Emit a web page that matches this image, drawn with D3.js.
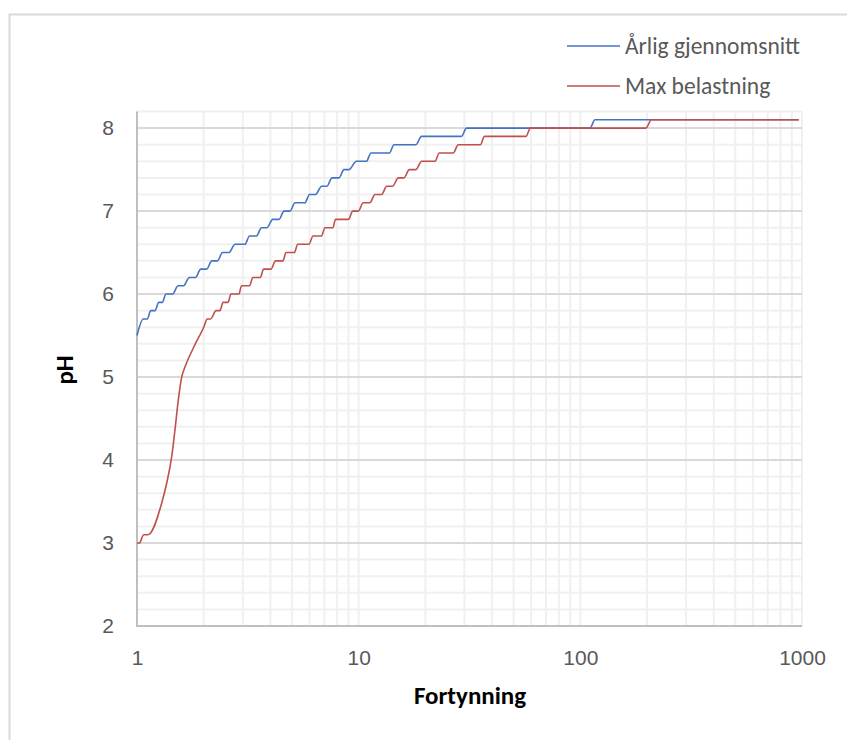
<!DOCTYPE html>
<html>
<head>
<meta charset="utf-8">
<script src="https://cdn.jsdelivr.net/npm/d3@7"></script>
<style>
  html, body { margin: 0; padding: 0; background: #ffffff; }
  svg { display: block; font-family: Carlito, Calibri, Lato, "Open Sans", sans-serif; }
</style>
</head>
<body>
<svg id="chart" width="847" height="740"></svg>
<script>
// ---- data ----
const seriesNames = ["Årlig gjennomsnitt", "Max belastning"];
const seriesColors = ["#4472C4", "#C0504D"];

const blueX = [1, 1.068, 1.113, 1.153, 1.206, 1.253, 1.300, 1.351, 1.449, 1.531, 1.621, 1.722, 1.836,
  1.938, 2.063, 2.173, 2.307, 2.430, 2.600, 2.767, 3.070, 3.217, 3.459, 3.644, 3.858, 4.094, 4.371,
  4.604, 4.899, 5.160, 5.725, 5.999, 6.385, 6.808, 7.194, 7.577, 8.149, 8.584, 9.042, 9.774, 10.84,
  11.36, 13.77, 14.43, 18.13, 19.20, 29.09, 30.64, 110.5, 116.4, 968];
const blueY = [5.5, 5.7, 5.7, 5.8, 5.8, 5.9, 5.9, 6.0, 6.0, 6.1, 6.1, 6.2, 6.2,
  6.3, 6.3, 6.4, 6.4, 6.5, 6.5, 6.6, 6.6, 6.7, 6.7, 6.8, 6.8, 6.9, 6.9,
  7.0, 7.0, 7.1, 7.1, 7.2, 7.2, 7.3, 7.3, 7.4, 7.4, 7.5, 7.5, 7.6, 7.6,
  7.7, 7.7, 7.8, 7.8, 7.9, 7.9, 8.0, 8.0, 8.1, 8.1];

const redX = [1, 1.025, 1.072, 1.121, 1.292, 1.361, 1.434, 1.483, 1.535, 1.591, 1.646, 1.795, 2.000,
  2.075, 2.150, 2.272, 2.368, 2.443, 2.573, 2.655, 2.885, 2.961, 3.220, 3.329, 3.602, 3.724, 4.022,
  4.214, 4.556, 4.700, 5.128, 5.307, 5.968, 6.221, 6.794, 7.047, 7.656, 7.857, 8.995, 9.397, 9.959,
  10.49, 11.24, 11.84, 12.70, 13.37, 14.24, 15.09, 16.01, 16.92, 18.13, 19.24, 22.09, 23.10, 26.71,
  28.13, 35.43, 36.93, 56.84, 59.56, 197.7, 209.3, 968];
const redY = [3.0, 3.0, 3.1, 3.1, 3.48, 3.72, 4.04, 4.36, 4.72, 5.0, 5.12, 5.35, 5.6,
  5.7, 5.7, 5.8, 5.8, 5.9, 5.9, 6.0, 6.0, 6.1, 6.1, 6.2, 6.2, 6.3, 6.3,
  6.4, 6.4, 6.5, 6.5, 6.6, 6.6, 6.7, 6.7, 6.8, 6.8, 6.9, 6.9, 7.0, 7.0,
  7.1, 7.1, 7.2, 7.2, 7.3, 7.3, 7.4, 7.4, 7.5, 7.5, 7.6, 7.6, 7.7, 7.7,
  7.8, 7.8, 7.9, 7.9, 8.0, 8.0, 8.1, 8.1];

const xTickValues = [1, 10, 100, 1000];
const xTickLabels = ["1", "10", "100", "1000"];
const yTickValues = [2, 3, 4, 5, 6, 7, 8];
const yTickLabels = ["2", "3", "4", "5", "6", "7", "8"];
const xTitle = "Fortynning";
const yTitle = "pH";

(function () {
// ---- layout ----
const svg = d3.select("#chart");
const pL = 137, pR = 802, pT = 111.5, pB = 626;

const x = d3.scaleLog().domain([1, 1000]).range([pL, pR]);
const y = d3.scaleLinear().domain([2, 8.2]).range([pB, pT]);

// chart border
svg.append("rect")
  .attr("x", 9.5).attr("y", 14.5).attr("width", 860).attr("height", 760)
  .attr("fill", "none").attr("stroke", "#d9d9d9").attr("stroke-width", 2);

// minor horizontal grid
const yMinor = d3.range(0, 32).map(i => +(2 + i * 0.2).toFixed(1)).filter(v => v <= 8.2);
const grid = svg.append("g");
grid.selectAll("line.hmin").data(yMinor.filter(v => Math.abs(v - Math.round(v)) > 1e-6))
  .join("line")
  .attr("x1", pL).attr("x2", pR)
  .attr("y1", d => y(d)).attr("y2", d => y(d))
  .attr("stroke", "#f0f0f0").attr("stroke-width", 2);

// vertical grid (log minor)
const xGridVals = [];
[1, 10, 100].forEach(dec => { for (let k = 1; k <= 9; k++) xGridVals.push(dec * k); });
xGridVals.push(1000);
grid.selectAll("line.v").data(xGridVals.filter(v => v > 1))
  .join("line")
  .attr("x1", d => x(d)).attr("x2", d => x(d))
  .attr("y1", pT).attr("y2", pB)
  .attr("stroke", "#f0f0f0").attr("stroke-width", 2);

grid.selectAll("line.hmaj").data(yTickValues.filter(v => v > 2))
  .join("line")
  .attr("x1", pL).attr("x2", pR)
  .attr("y1", d => y(d)).attr("y2", d => y(d))
  .attr("stroke", "#d9d9d9").attr("stroke-width", 2);

// axes
const yAxis = d3.axisLeft(y).tickValues(yTickValues).tickFormat((d, i) => yTickLabels[i]).tickSize(0).tickPadding(23);
const gy = svg.append("g").attr("transform", `translate(${pL},0)`).call(yAxis);
gy.select(".domain").attr("stroke", "#bfbfbf").attr("stroke-width", 2).attr("d", `M0,${pT}V${pB}`);
gy.selectAll("text").attr("font-size", 21).attr("fill", "#595959").attr("font-family", null);

const xAxis = d3.axisBottom(x).tickValues(xTickValues).tickFormat((d, i) => xTickLabels[i]).tickSize(0).tickPadding(24);
const gx = svg.append("g").attr("transform", `translate(0,${pB})`).call(xAxis);
gx.select(".domain").attr("stroke", "#bfbfbf").attr("stroke-width", 2).attr("d", `M${pL - 1},0H${pR}`);
gx.selectAll("text").attr("font-size", 21).attr("fill", "#595959").attr("font-family", null);

// series
const series = [
  { name: seriesNames[0], color: seriesColors[0], pts: blueX.map((v, i) => [v, blueY[i]]) },
  { name: seriesNames[1], color: seriesColors[1], pts: redX.map((v, i) => [v, redY[i]]) }
];
const line = d3.line().x(d => x(d[0])).y(d => y(d[1])).curve(d3.curveMonotoneX);
svg.append("g").selectAll("path").data(series).join("path")
  .attr("d", d => line(d.pts))
  .attr("fill", "none").attr("stroke", d => d.color).attr("stroke-width", 1.6)
  .attr("stroke-linejoin", "round");

// titles
svg.append("text").attr("x", 470).attr("y", 704).attr("text-anchor", "middle")
  .attr("font-size", 25).attr("font-weight", "bold").attr("fill", "#000").text(xTitle);
svg.append("text").attr("transform", "translate(73,370) rotate(-90)").attr("text-anchor", "middle")
  .attr("font-size", 25).attr("font-weight", "bold").attr("fill", "#000").text(yTitle);

// legend
const lg = svg.append("g");
series.forEach((s, i) => {
  const ly = 46 + i * 40;
  lg.append("line").attr("x1", 567).attr("x2", 620).attr("y1", ly).attr("y2", ly)
    .attr("stroke", s.color).attr("stroke-width", 1.6);
  lg.append("text").attr("x", 625).attr("y", ly).attr("dominant-baseline", "central")
    .attr("font-size", 23.5).attr("fill", "#595959").text(s.name);
});
})();
</script>
</body>
</html>
